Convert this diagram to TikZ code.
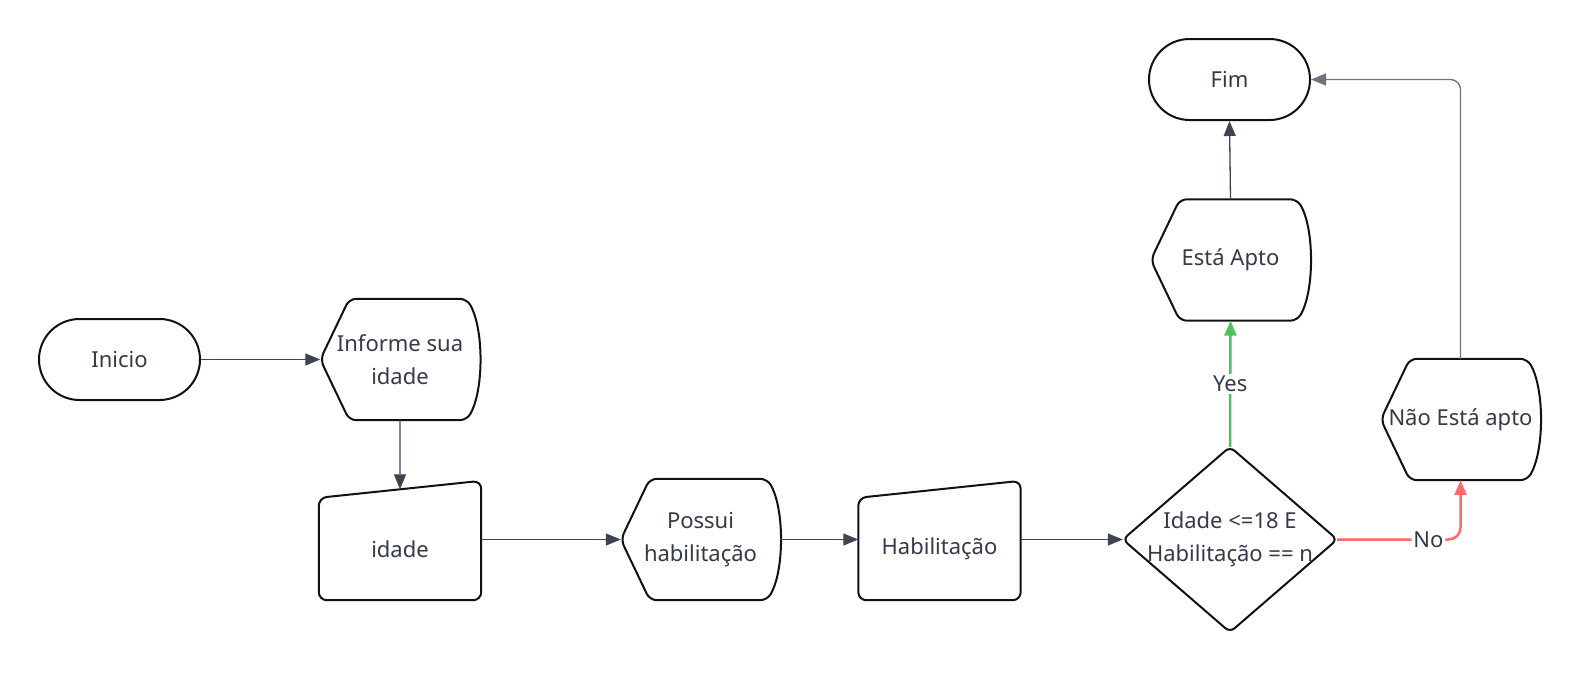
\documentclass[tikz,border=0pt]{standalone}
\usepackage{fontspec}
\setmainfont{Noto Sans}
\usetikzlibrary{arrows.meta,shapes.misc,calc}
\definecolor{inkgray}{HTML}{343A46}
\definecolor{shapeblack}{HTML}{111111}
\definecolor{linegray}{HTML}{3F4451}
\definecolor{loopgray}{HTML}{6E737D}
\definecolor{yesgreen}{HTML}{4CC35A}
\definecolor{nored}{HTML}{FF6B6B}
\tikzset{
  every node/.style={font=\fontsize{22}{33}\selectfont, text=inkgray, align=center, inner sep=0pt},
  shapeedge/.style={draw=shapeblack, line width=2pt, line join=round},
  terminal/.style={rounded rectangle, shapeedge, minimum width=161pt, minimum height=81pt},
  display/.style={minimum width=159pt, minimum height=121pt},
  manual/.style={minimum width=162pt, minimum height=102pt},
  decision/.style={minimum width=214pt, minimum height=185pt},
  flow/.style={draw=linegray, line width=1.3pt, -{Triangle[length=15pt,width=12pt]}},
  yesline/.style={draw=yesgreen, line width=2.5pt, -{Triangle[length=15pt,width=12pt]}},
  noline/.style={draw=nored, line width=2.5pt, rounded corners=12pt, -{Triangle[length=15pt,width=12pt]}},
  edgelabel/.style={fill=white, inner sep=2pt}
}
\begin{document}
\begin{tikzpicture}[x=1pt, y=-1pt]
  \useasboundingbox[fill=white] (0,0) rectangle (1580,675);

  % nodes
  \node[terminal] (inicio) at (119.5,359.5) {Inicio};
  \node[display] (informe) at (400,359.5) {Informe sua\\idade};
  \node[manual] (idade) at (400,549) {idade};
  \node[display] (possui) at (700.5,539.5) {Possui\\habilitação};
  \node[manual] (habil) at (939.5,549) {Habilitação};
  \node[decision] (cond) at (1230,539.5) {Idade <=18 E\\Habilitação == n};
  \node[display] (apto) at (1230.5,260) {Está Apto};
  \node[terminal] (fim) at (1229.5,79.5) {Fim};
  \node[display] (naoapto) at (1460.5,419.5) {Não Está apto};

  % outlines
  \foreach \n in {informe,possui,apto,naoapto}
    \draw[shapeedge, rounded corners=7pt] (\n.west) -- ([xshift=29pt]\n.north west)
      -- ([xshift=-13pt]\n.north east)
      .. controls ([xshift=4.3pt,yshift=-30pt]\n.north east) and ([xshift=4.3pt,yshift=30pt]\n.south east) .. ([xshift=-13pt]\n.south east)
      -- ([xshift=29pt]\n.south west) -- cycle;
  \foreach \n in {idade,habil}
    \draw[shapeedge, rounded corners=8pt] (\n.north west) -- ([yshift=17pt]\n.north east)
      -- (\n.south east) -- (\n.south west) -- cycle;
  \draw[shapeedge, rounded corners=6pt] (cond.north) -- (cond.east) -- (cond.south) -- (cond.west) -- cycle;
  \coordinate (idadetop) at ($(idade.north west)!0.5!([yshift=17pt]idade.north east)$);

  % connectors
  \draw[flow] (inicio.east) -- (informe.west);
  \draw[flow] (informe.south) -- (idadetop);
  \draw[flow] (idade.east |- possui.west) -- (possui.west);
  \draw[flow] (possui.east) -- (habil.west |- possui.east);
  \draw[flow] (habil.east |- cond.west) -- (cond.west);
  \draw[yesline] (cond.north) -- node[edgelabel] {Yes} (apto.south);
  \draw[noline] (cond.east) -| node[edgelabel, pos=0.37] {No} (naoapto.south);
  \draw[flow] (apto.north) -- (fim.south);
  \draw[flow, draw=loopgray, rounded corners=10pt] (naoapto.north) |- (fim.east);
\end{tikzpicture}
\end{document}
